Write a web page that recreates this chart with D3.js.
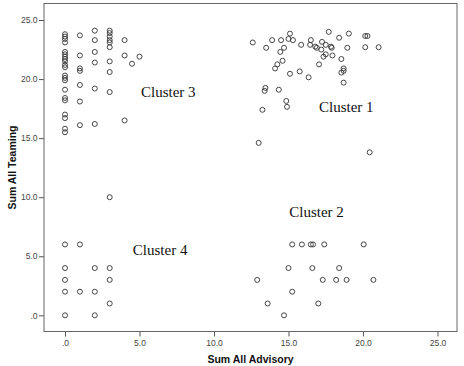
<!DOCTYPE html>
<html>
<head>
<meta charset="utf-8">
<script src="https://cdn.jsdelivr.net/npm/d3@7"></script>
<style>
  body { margin: 0; background: #fff; }
  .tick text { font-family: "Liberation Sans", Arial, sans-serif; font-size: 8.5px; fill: #444; }
  .tick line { stroke: #555; }
</style>
</head>
<body>
<svg id="chart" width="464" height="366"></svg>
<script>
// [advisory, teaming] per cluster
const cluster1 = [
  [12.6, 23.1], [13.5, 22.65], [13.9, 23.3], [14.5, 23.3], [15.1, 23.85], [15.0, 23.4],
  [15.3, 23.3], [14.7, 22.65], [14.45, 22.3], [15.85, 22.9], [16.5, 23.3], [16.45, 22.9],
  [16.8, 22.75], [16.9, 22.65], [17.25, 23.15], [17.2, 22.5], [17.5, 22.9], [17.7, 24.0],
  [17.85, 22.75], [17.9, 22.65], [18.4, 23.5], [19.05, 23.85], [18.95, 22.65],
  [20.15, 23.65], [20.3, 23.65], [20.15, 22.7], [21.05, 22.7], [17.5, 22.1], [17.35, 21.9],
  [17.95, 22.0], [14.6, 21.55], [14.25, 21.25], [14.1, 20.9], [17.05, 21.25], [18.55, 21.7],
  [18.7, 20.9], [18.55, 20.55], [18.7, 20.7], [18.7, 19.7], [15.1, 20.45], [15.75, 20.65],
  [16.35, 20.15], [13.45, 19.25], [13.4, 19.0], [14.35, 19.1], [14.85, 18.15], [14.9, 17.65],
  [13.25, 17.4], [13.0, 14.6], [20.45, 13.8]
];
const cluster2 = [
  [15.25, 6], [15.9, 6], [16.5, 6], [16.65, 6], [17.4, 6], [20.05, 6],
  [15.0, 4], [16.6, 4], [18.4, 4],
  [12.9, 3], [17.3, 3], [18.2, 3], [18.9, 3], [20.7, 3],
  [15.25, 2], [13.6, 1], [17.0, 1], [14.7, 0]
];
const cluster3 = [
  [0, 23.8], [0, 23.6], [0, 23.4], [0, 23.1], [0, 22.3], [0, 22.1], [0, 21.9], [0, 21.7],
  [0, 21.5], [0, 21.2], [0, 21.0], [0, 20.3], [0, 20.1], [0, 19.9], [0, 19.1], [0, 18.4],
  [0, 18.2], [0, 17.0], [0, 16.7], [0, 15.8], [0, 15.5],
  [1, 23.7], [1, 22.0], [1, 20.9], [1, 20.7], [1, 19.5], [1, 18.1], [1, 16.1],
  [2, 24.1], [2, 23.3], [2, 22.3], [2, 21.4], [2, 19.2], [2, 16.2],
  [3, 24.1], [3, 23.9], [3, 23.6], [3, 23.3], [3, 23.1], [3, 22.7], [3, 21.5], [3, 20.6],
  [3, 18.9], [3, 10.0],
  [4, 23.3], [4, 22.0], [4, 16.5], [4.5, 21.3], [5, 21.9]
];
const cluster4 = [
  [0, 6], [0, 4], [0, 3], [0, 2], [0, 0],
  [1, 6], [1, 2],
  [2, 4], [2, 2], [2, 0],
  [3, 4], [3, 3], [3, 1]
];
// cluster names with the data point where each label starts (baseline)
const clusterLabels = [
  { name: "Cluster 3", at: [5.1, 18.5] },
  { name: "Cluster 1", at: [17.05, 17.2] },
  { name: "Cluster 2", at: [15.05, 8.3] },
  { name: "Cluster 4", at: [4.55, 5.1] }
];
const tickValues = [0, 5, 10, 15, 20, 25];

const frame = { left: 44, right: 457, top: 3.5, bottom: 331.5 };

const x = d3.scaleLinear().domain([-1.41, 26.31]).range([frame.left, frame.right]);
const y = d3.scaleLinear().domain([-1.37, 26.4]).range([frame.bottom, frame.top]);

const fmt = d => d === 0 ? ".0" : d.toFixed(1);

const svg = d3.select("#chart");

// axes
svg.append("g")
    .attr("transform", `translate(0,${frame.bottom})`)
    .call(d3.axisBottom(x).tickValues(tickValues).tickFormat(fmt).tickSize(5).tickPadding(3))
    .call(g => g.select(".domain").remove());

svg.append("g")
    .attr("transform", `translate(${frame.left},0)`)
    .call(d3.axisLeft(y).tickValues(tickValues).tickFormat(fmt).tickSize(5).tickPadding(1.5))
    .call(g => g.select(".domain").remove());

// plot frame
svg.append("rect")
    .attr("x", frame.left).attr("y", frame.top)
    .attr("width", frame.right - frame.left)
    .attr("height", frame.bottom - frame.top)
    .attr("fill", "none")
    .attr("stroke", "#666")
    .attr("stroke-width", 1);

// points
const allPoints = cluster1.concat(cluster2, cluster3, cluster4);
svg.append("g")
    .selectAll("circle")
    .data(allPoints)
    .join("circle")
    .attr("cx", d => x(d[0]))
    .attr("cy", d => y(d[1]))
    .attr("r", 2.5)
    .attr("fill", "none")
    .attr("stroke", "#333")
    .attr("stroke-width", 0.9);

// cluster labels
svg.append("g")
    .selectAll("text")
    .data(clusterLabels)
    .join("text")
    .attr("x", d => x(d.at[0]))
    .attr("y", d => y(d.at[1]))
    .attr("font-family", "'Liberation Serif', 'Times New Roman', serif")
    .attr("font-size", 15)
    .attr("fill", "#111")
    .text(d => d.name);

// axis titles
svg.append("text")
    .attr("x", (frame.left + frame.right) / 2)
    .attr("y", 363)
    .attr("text-anchor", "middle")
    .attr("font-family", "'Liberation Sans', Arial, sans-serif")
    .attr("font-weight", "bold")
    .attr("font-size", 10.5)
    .attr("fill", "#111")
    .text("Sum All Advisory");

svg.append("text")
    .attr("transform", `translate(15.5,${(frame.top + frame.bottom) / 2}) rotate(-90)`)
    .attr("text-anchor", "middle")
    .attr("font-family", "'Liberation Sans', Arial, sans-serif")
    .attr("font-weight", "bold")
    .attr("font-size", 10.5)
    .attr("fill", "#111")
    .text("Sum All Teaming");
</script>
</body>
</html>
